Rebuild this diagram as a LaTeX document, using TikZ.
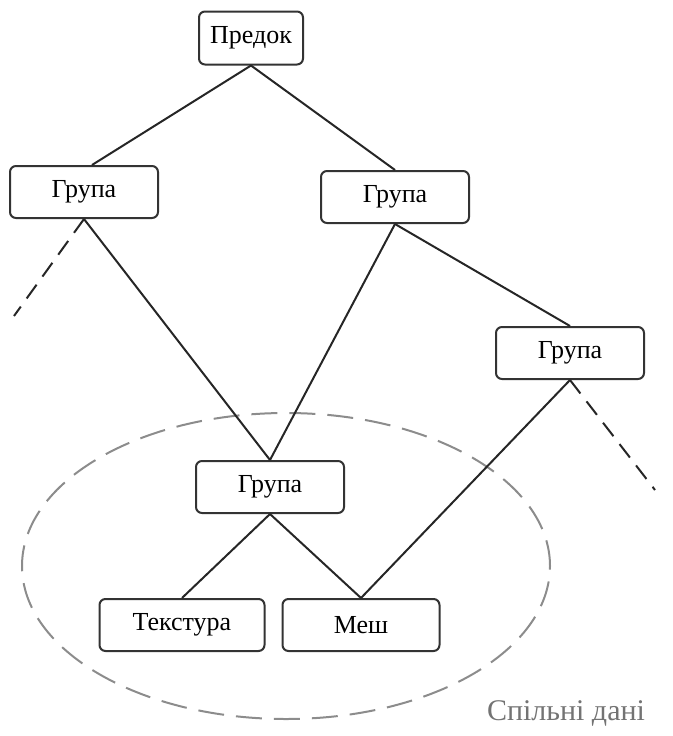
\documentclass[tikz,border=0pt]{standalone}
\usepackage{fontspec}
\setmainfont{Liberation Serif}
\usepackage{xcolor}
\usetikzlibrary{shapes.geometric,positioning}

\begin{document}
\begin{tikzpicture}[x=1pt, y=-1pt,
  grp/.style={draw=black!80, line width=2pt, rounded corners=6pt, fill=white, minimum width=148pt, minimum height=52pt, font=\fontsize{26}{30}\selectfont},
  link/.style={line width=2pt, draw=black!85},
  cut/.style={link, dash pattern=on 17pt off 10pt},
  shared/.style={ellipse, draw=black!45, line width=2pt, dash pattern=on 26pt off 12pt, minimum width=528pt, minimum height=306pt}]
\useasboundingbox (0,0) rectangle (672,736);
\node[shared] (common) at (286,566) {};
\node[font=\fontsize{30}{34}\selectfont, text=black!55] (commonlbl) at (566,713) {Спільні дані};
\node[grp, minimum width=104pt, minimum height=53pt] (root) at (251,38) {Предок};
\node[grp] (gleft) at (84,192) {Група};
\node[grp] (gmid) at (395,197) {Група};
\node[grp] (gright) at (570,353) {Група};
\node[grp] (gshared) at (270,487) {Група};
\node[grp, minimum width=165pt] (tex) at (182,625) {Текстура};
\node[grp, minimum width=157pt] (mesh) at (361,625) {Меш};
\coordinate (leftcut) at (14,316);
\coordinate (rightcut) at (655,490);
\draw[link] (root.south) -- ([xshift=8pt]gleft.north);
\draw[link] (root.south) -- (gmid.north);
\draw[link] (gleft.south) -- (gshared.north);
\draw[link] (gmid.south) -- (gshared.north);
\draw[link] (gmid.south) -- (gright.north);
\draw[link] (gright.south) -- (mesh.north);
\draw[link] (gshared.south) -- (tex.north);
\draw[link] (gshared.south) -- (mesh.north);
\draw[cut] (gleft.south) -- (leftcut);
\draw[cut] (gright.south) -- (rightcut);
\end{tikzpicture}
\end{document}
